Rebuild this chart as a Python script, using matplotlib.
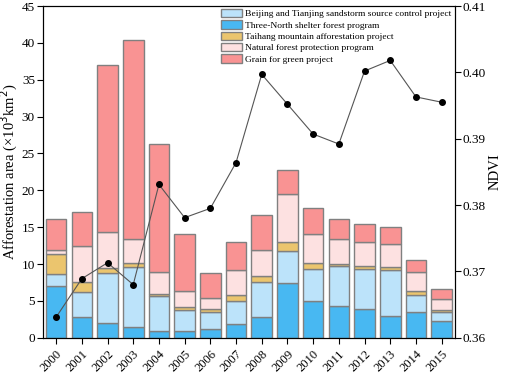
import matplotlib
matplotlib.use("Agg")
import matplotlib.pyplot as plt
import numpy as np

years = [str(y) for y in range(2000, 2016)]
three_north = [7.0, 2.8, 1.95, 1.4, 0.85, 0.85, 1.25, 1.85, 2.85, 7.45, 4.95, 4.3, 3.95, 2.95, 3.45, 2.25]
beijing_tianjin = [1.6, 3.4, 6.8, 8.2, 4.8, 2.9, 2.2, 3.15, 4.7, 4.35, 4.4, 5.45, 5.35, 6.25, 2.4, 1.2]
taihang = [2.7, 1.4, 0.75, 0.55, 0.3, 0.4, 0.45, 0.75, 0.8, 1.2, 0.75, 0.3, 0.4, 0.4, 0.5, 0.3]
natural_forest = [0.6, 4.9, 4.85, 3.2, 2.95, 2.2, 1.45, 3.4, 3.55, 6.5, 4.0, 3.3, 3.3, 3.05, 2.6, 1.55]
grain_green = [4.2, 4.55, 22.6, 27.0, 17.4, 7.7, 3.4, 3.8, 4.8, 3.3, 3.5, 2.75, 2.45, 2.4, 1.6, 1.25]
ndvi = [0.3631, 0.3689, 0.3713, 0.3680, 0.3831, 0.3781, 0.3795, 0.3864, 0.3997, 0.3952,
        0.3907, 0.3892, 0.4002, 0.4018, 0.3963, 0.3955]

plt.rcParams['font.family'] = ['Liberation Serif', 'DejaVu Serif']

fig = plt.figure(figsize=(5.05, 3.77), dpi=100)
ax = fig.add_axes([0.0857, 0.1042, 0.8143, 0.8798])
x = np.arange(len(years))
edge = '#808080'
w = 0.8

c_tn = '#48B8F2'
c_bt = '#BCE3FA'
c_th = '#EBC56E'
c_nf = '#FDE1E1'
c_gg = '#F99393'

bottom = np.zeros(len(years))
bars = {}
for name, vals, col in [
    ('Three-North shelter forest program', three_north, c_tn),
    ('Beijing and Tianjing sandstorm source control project', beijing_tianjin, c_bt),
    ('Taihang mountain afforestation project', taihang, c_th),
    ('Natural forest protection program', natural_forest, c_nf),
    ('Grain for green project', grain_green, c_gg),
]:
    bars[name] = ax.bar(x, vals, w, bottom=bottom, color=col, edgecolor=edge, linewidth=1.0, zorder=2)
    bottom = bottom + np.array(vals)

ax.set_xlim(-0.5, len(years) - 0.5)
ax.set_ylim(0, 45)
ax.set_yticks(range(0, 46, 5))
ax.set_xticks(x)
ax.set_xticklabels(years, rotation=45, ha='right', rotation_mode='anchor', fontsize=9)
ax.tick_params(axis='y', labelsize=9.5, direction='out', length=4, pad=2)
ax.tick_params(axis='x', direction='out', length=4)
ax.set_ylabel('Afforestation area (×10$^3$km$^2$)', fontsize=10.5, labelpad=1)

order = ['Beijing and Tianjing sandstorm source control project',
         'Three-North shelter forest program',
         'Taihang mountain afforestation project',
         'Natural forest protection program',
         'Grain for green project']
leg = ax.legend([bars[n] for n in order], order, loc='upper right', frameon=False,
                fontsize=6.8, handlelength=2.2, handleheight=1.0, labelspacing=0.2,
                handletextpad=0.35, borderaxespad=0.1, borderpad=0.2,
                bbox_to_anchor=(1.0, 1.0))

ax2 = ax.twinx()
ax2.plot(x, ndvi, color='#555555', linewidth=0.8, marker='o', markersize=4,
         markerfacecolor='black', markeredgecolor='black', zorder=3)
ax2.set_ylim(0.36, 0.41)
ax2.set_yticks([0.36, 0.37, 0.38, 0.39, 0.40, 0.41])
ax2.set_yticklabels(['0.36', '0.37', '0.38', '0.39', '0.40', '0.41'])
ax2.tick_params(axis='y', labelsize=9.5, direction='out', length=4, pad=2)
ax2.set_ylabel('NDVI', fontsize=10.5, rotation=90, labelpad=2)

fig.savefig('out.png', dpi=100)
